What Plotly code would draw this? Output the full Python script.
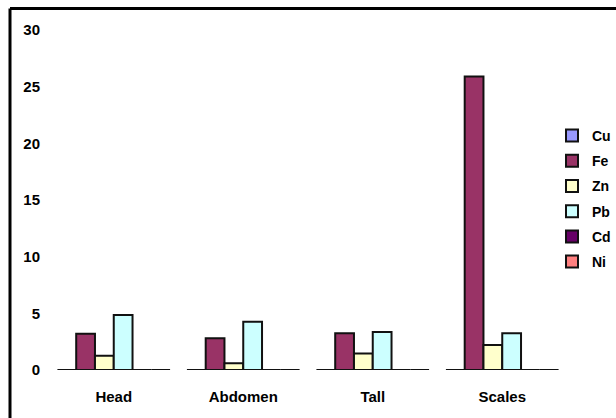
import plotly.graph_objects as go

categories = ["Head", "Abdomen", "Tall", "Scales"]
metals = ["Cu", "Fe", "Zn", "Pb", "Cd", "Ni"]
cu = [0, 0, 0, 0]
fe = [3.2, 2.8, 3.25, 25.9]
zn = [1.25, 0.6, 1.45, 2.2]
pb = [4.85, 4.25, 3.35, 3.25]
cd = [0, 0, 0, 0]
ni = [0, 0, 0, 0]
series = [cu, fe, zn, pb, cd, ni]
colors = ["#9999FF", "#993366", "#FFFFCC", "#CCFFFF", "#660066", "#FF8080"]
y_ticks = [0, 5, 10, 15, 20, 25, 30]

FONT = "Liberation Sans Narrow, Arial Narrow, Liberation Sans, sans-serif"

fig = go.Figure()
for name, vals, col in zip(metals, series, colors):
    fig.add_trace(go.Bar(
        x=categories, y=vals, name=name, legendgroup=name,
        marker=dict(color=col, line=dict(color="#111111", width=2)),
    ))

# plot area: x 49..567 px, y 30..370 px
L, R, T, B = 49, 616 - 567, 30, 418 - 370
pw, ph = 616 - L - R, 418 - T - B
fig.update_layout(
    width=616, height=418,
    margin=dict(l=L, r=R, t=T, b=B, autoexpand=False),
    paper_bgcolor="white", plot_bgcolor="white",
    barmode="group", bargap=0.13, bargroupgap=0,
    font=dict(family=FONT, color="black", size=13),
    showlegend=True,
    legend=dict(
        xref="container", yref="container",
        x=552 / 616, y=1 - 120 / 418, xanchor="left", yanchor="top",
        font=dict(family=FONT, size=14, color="black", weight="bold"),
        tracegroupgap=4, itemwidth=30, bgcolor="rgba(0,0,0,0)",
    ),
    xaxis=dict(showgrid=False, showline=False, zeroline=False, ticks="",
               tickfont=dict(family=FONT, size=15, color="black", weight="bold"),
               ticklabelstandoff=16),
    yaxis=dict(range=[0, 30], tickvals=y_ticks, showgrid=False, showline=False,
               zeroline=False, ticks="",
               tickfont=dict(family=FONT, size=15, color="black", weight="bold"),
               ticklabelstandoff=8),
    shapes=[
        dict(type="line", xref="paper", yref="paper",
             x0=(10 - L) / pw, x1=(10 - L) / pw,
             y0=1 - (430 - T) / ph, y1=1 - (8.5 - T) / ph,
             line=dict(color="black", width=3)),
        dict(type="line", xref="paper", yref="paper",
             x0=(10 - L) / pw, x1=(630 - L) / pw,
             y0=1 - (8.5 - T) / ph, y1=1 - (8.5 - T) / ph,
             line=dict(color="black", width=3)),
    ],
)

fig.write_html("out.html")
